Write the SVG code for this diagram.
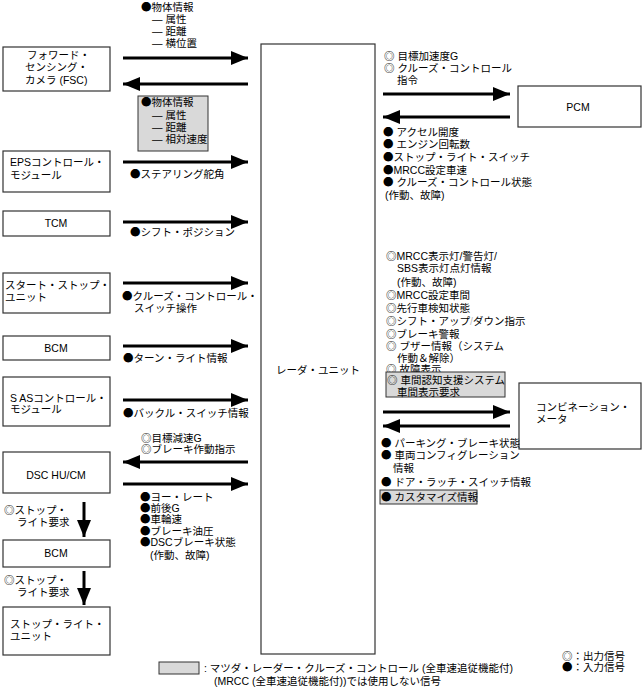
<svg xmlns="http://www.w3.org/2000/svg" width="643" height="688" viewBox="0 0 643 688">
<style>
text{font-family:"Liberation Sans","Noto Sans CJK JP",sans-serif;font-size:10.5px;fill:#000}
.s{font-family:"Noto Sans CJK JP",sans-serif}
.c{text-anchor:middle}
.box{fill:#fff;stroke:#333;stroke-width:1.2}
.gray{fill:#d9d9d9;stroke:#333;stroke-width:1}
.ar{stroke:#000;stroke-width:3;fill:none}
.sl{fill:#bbb}
</style>
<defs>
<marker id="ah" markerUnits="userSpaceOnUse" markerWidth="18" markerHeight="14" refX="17" refY="7" orient="auto">
<path d="M0,0 L17,7 L0,14 Z" fill="#000"/>
</marker>
</defs>
<rect width="643" height="688" fill="#fff"/>

<g id="radar"><rect class="box" x="261" y="44" width="114" height="610"/><text class="c" x="318" y="374">レーダ・ユニット</text></g>

<g id="fsc"><rect class="box" x="3" y="47" width="107" height="44"/>
<text x="27" y="59">フォワード・</text><text x="25" y="71">センシング・</text><text x="25" y="84">カメラ (FSC)</text></g>
<g id="eps"><rect class="box" x="3" y="151" width="107" height="41"/>
<text x="10" y="166">EPSコントロール・</text><text x="10" y="179">モジュール</text></g>
<g id="tcm"><rect class="box" x="3" y="211" width="107" height="25"/><text class="c" x="56" y="227">TCM</text></g>
<g id="ssu"><rect class="box" x="3" y="273" width="107" height="40"/>
<text x="5" y="289">スタート・ストップ・</text><text x="5" y="301">ユニット</text></g>
<g id="bcm1"><rect class="box" x="3" y="336" width="107" height="24"/><text class="c" x="56" y="352">BCM</text></g>
<g id="sas"><rect class="box" x="3" y="377" width="107" height="49"/>
<text x="10" y="402">S ASコントロール・</text><text x="10" y="413">モジュール</text></g>
<g id="dsc"><rect class="box" x="3" y="452" width="107" height="41"/><text class="c" x="56" y="479">DSC HU/CM</text></g>
<g id="bcm2"><rect class="box" x="3" y="540" width="107" height="27"/><text class="c" x="56" y="557">BCM</text></g>
<g id="slu"><rect class="box" x="3" y="607" width="107" height="48"/>
<text x="10" y="628">ストップ・ライト・</text><text x="10" y="640">ユニット</text></g>
<g id="pcm"><rect class="box" x="518" y="86" width="123" height="41"/><text class="c" x="578" y="111">PCM</text></g>
<g id="meter"><rect class="box" x="519" y="383" width="122" height="66"/>
<text x="536" y="411">コンビネーション・</text><text x="536" y="423">メータ</text></g>

<g id="connectors">
<line class="ar" x1="123" y1="58" x2="248" y2="58" marker-end="url(#ah)"/>
<line class="ar" x1="248" y1="84" x2="123" y2="84" marker-end="url(#ah)"/>
<line class="ar" x1="123" y1="162" x2="248" y2="162" marker-end="url(#ah)"/>
<line class="ar" x1="123" y1="222" x2="248" y2="222" marker-end="url(#ah)"/>
<line class="ar" x1="123" y1="283" x2="248" y2="283" marker-end="url(#ah)"/>
<line class="ar" x1="123" y1="346" x2="248" y2="346" marker-end="url(#ah)"/>
<line class="ar" x1="123" y1="400" x2="248" y2="400" marker-end="url(#ah)"/>
<line class="ar" x1="248" y1="462" x2="123" y2="462" marker-end="url(#ah)"/>
<line class="ar" x1="123" y1="484" x2="248" y2="484" marker-end="url(#ah)"/>
<line class="ar" x1="84" y1="502" x2="84" y2="537" marker-end="url(#ah)"/>
<line class="ar" x1="84" y1="571" x2="84" y2="605" marker-end="url(#ah)"/>
<line class="ar" x1="383" y1="94" x2="510" y2="94" marker-end="url(#ah)"/>
<line class="ar" x1="510" y1="117" x2="383" y2="117" marker-end="url(#ah)"/>
<line class="ar" x1="383" y1="412" x2="510" y2="412" marker-end="url(#ah)"/>
<line class="ar" x1="510" y1="426" x2="383" y2="426" marker-end="url(#ah)"/>
</g>

<g id="labels">
<text x="141" y="11"><tspan class="s">●</tspan>物体情報</text>
<text x="152" y="23">— 属性</text><text x="152" y="35">— 距離</text><text x="152" y="47">— 横位置</text>
<rect class="gray" x="138" y="96" width="70" height="55"/>
<text x="141" y="106"><tspan class="s">●</tspan>物体情報</text>
<text x="152" y="119">— 属性</text><text x="152" y="131">— 距離</text><text x="152" y="143">— 相対速度</text>
<text x="130" y="178"><tspan class="s">●</tspan>ステアリング舵角</text>
<text x="130" y="236"><tspan class="s">●</tspan>シフト・ポジション</text>
<text x="122" y="300"><tspan class="s">●</tspan>クルーズ・コントロール・</text><text x="134" y="312">スイッチ操作</text>
<text x="123" y="362"><tspan class="s">●</tspan>ターン・ライト情報</text>
<text x="123" y="417"><tspan class="s">●</tspan>バックル・スイッチ情報</text>
<text x="141" y="442"><tspan class="s">◎</tspan>目標減速G</text><text x="141" y="453"><tspan class="s">◎</tspan>ブレーキ作動指示</text>
<text x="140" y="501"><tspan class="s">●</tspan>ヨー・レート</text>
<text x="140" y="512"><tspan class="s">●</tspan>前後G</text>
<text x="140" y="523"><tspan class="s">●</tspan>車輪速</text>
<text x="140" y="535"><tspan class="s">●</tspan>ブレーキ油圧</text>
<text x="140" y="546"><tspan class="s">●</tspan>DSCブレーキ状態</text>
<text x="150" y="559">(作動、故障)</text>
<text x="4" y="514"><tspan class="s">◎</tspan>ストップ・</text><text x="17" y="526">ライト要求</text>
<text x="4" y="584"><tspan class="s">◎</tspan>ストップ・</text><text x="17" y="596">ライト要求</text>

<text x="384" y="60"><tspan class="s">◎</tspan> 目標加速度G</text>
<text x="384" y="72"><tspan class="s">◎</tspan> クルーズ・コントロール</text>
<text x="397" y="84">指令</text>
<text x="383" y="136"><tspan class="s">●</tspan> アクセル開度</text>
<text x="383" y="148"><tspan class="s">●</tspan> エンジン回転数</text>
<text x="383" y="161"><tspan class="s">●</tspan>ストップ・ライト・スイッチ</text>
<text x="383" y="174"><tspan class="s">●</tspan>MRCC設定車速</text>
<text x="383" y="186"><tspan class="s">●</tspan> クルーズ・コントロール状態</text>
<text x="385" y="199">(作動、故障)</text>

<text x="386" y="260"><tspan class="s">◎</tspan>MRCC表示灯/警告灯/</text>
<text x="397" y="272">SBS表示灯点灯情報</text>
<text x="397" y="286">(作動、故障)</text>
<text x="386" y="299"><tspan class="s">◎</tspan>MRCC設定車間</text>
<text x="386" y="312"><tspan class="s">◎</tspan>先行車検知状態</text>
<text x="386" y="325"><tspan class="s">◎</tspan>シフト・アップ<tspan class="sl">/</tspan>ダウン指示</text>
<text x="386" y="338"><tspan class="s">◎</tspan>ブレーキ警報</text>
<text x="386" y="350"><tspan class="s">◎</tspan> ブザー情報（システム</text>
<text x="397" y="362">作動＆解除）</text>
<text x="386" y="373"><tspan class="s">◎</tspan> 故障表示</text>
<rect class="gray" x="386" y="372" width="119" height="25"/>
<text x="387" y="384"><tspan class="s">◎</tspan> 車間認知支援システム</text>
<text x="397" y="396">車間表示要求</text>

<text x="381" y="447"><tspan class="s">●</tspan> パーキング・ブレーキ状態</text>
<text x="381" y="459"><tspan class="s">●</tspan> 車両コンフィグレーション</text>
<text x="393" y="472">情報</text>
<text x="381" y="486"><tspan class="s">●</tspan> ドア・ラッチ・スイッチ情報</text>
<rect class="gray" x="380" y="490" width="97" height="14"/>
<text x="381" y="501"><tspan class="s">●</tspan> カスタマイズ情報</text>
</g>

<g id="legend">
<rect class="gray" x="159" y="662" width="40" height="12"/>
<text x="204" y="672">: マツダ・レーダー・クルーズ・コントロール (全車速追従機能付)</text>
<text x="214" y="685">(MRCC (全車速追従機能付))では使用しない信号</text>
<text x="562" y="660"><tspan class="s">◎</tspan>：出力信号</text>
<text x="562" y="671"><tspan class="s">●</tspan>：入力信号</text>
</g>
</svg>
